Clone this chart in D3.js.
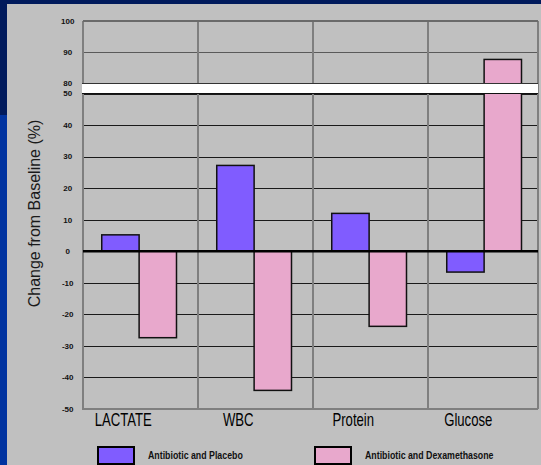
<!DOCTYPE html>
<html>
<head>
<meta charset="utf-8">
<script src="https://cdn.jsdelivr.net/npm/d3@7"></script>
<style>
  body { margin: 0; background: #001a5c; }
  svg { display: block; font-family: Arial, "Liberation Sans", sans-serif; }
</style>
</head>
<body>
<div id="container"></div>
<script>
const categories = ["LACTATE", "WBC", "Protein", "Glucose"];
const seriesNames = ["Antibiotic and Placebo", "Antibiotic and Dexamethasone"];
const placebo = [5.2, 27.2, 12.0, -6.6];
const dexamethasone = [-27.4, -44.1, -23.8, 87.7];
const lowerTicks = [-50, -40, -30, -20, -10, 0, 10, 20, 30, 40, 50];
const upperTicks = [80, 90, 100];

const colors = ["#805cff", "#e8a8cc"];

const width = 541, height = 465;
const plot = { left: 83, right: 538, top: 21, bottom: 409 };

const svg = d3.select("#container")
  .append("svg")
  .attr("width", width)
  .attr("height", height);

// slide background
svg.append("rect").attr("width", width).attr("height", height).attr("fill", "#001a5c");
svg.append("rect").attr("x", 0).attr("y", 115).attr("width", 8).attr("height", height - 115).attr("fill", "#0033a0");
svg.append("rect").attr("x", 7).attr("y", 4).attr("width", width - 7).attr("height", height - 4).attr("fill", "#c0c0c0");

// broken y axis: lower part -50..50, upper part 80..100
const yLow = d3.scaleLinear().domain([-50, 50]).range([plot.bottom, 93.5]);
const yHigh = d3.scaleLinear().domain([80, 100]).range([83.5, plot.top]);
const y = v => v <= 50 ? yLow(v) : yHigh(v);

const x = d3.scaleBand()
  .domain(categories)
  .range([plot.left, plot.left + 460])
  .paddingInner(0)
  .paddingOuter(0);
const bw = x.bandwidth();

// horizontal gridlines
const grid = svg.append("g").attr("shape-rendering", "crispEdges");
grid.selectAll("line.h")
  .data(lowerTicks.concat(upperTicks))
  .enter()
  .append("line")
  .attr("x1", plot.left)
  .attr("x2", plot.right)
  .attr("y1", d => Math.round(y(d)) + 0.5)
  .attr("y2", d => Math.round(y(d)) + 0.5)
  .attr("stroke", d => d > 50 ? "#5a5a5a" : "#1a1a1a")
  .attr("stroke-width", 1);

// vertical separators
const seps = categories.map(c => x(c)).concat([plot.right]);
grid.selectAll("line.v")
  .data(seps)
  .enter()
  .append("line")
  .attr("x1", d => d)
  .attr("x2", d => d)
  .attr("y1", plot.top)
  .attr("y2", plot.bottom)
  .attr("stroke", "#7f7f7f")
  .attr("stroke-width", 2);

// top border and bottom axis
grid.append("line").attr("x1", plot.left).attr("x2", plot.right)
  .attr("y1", y(100)).attr("y2", y(100)).attr("stroke", "#6a6a6a").attr("stroke-width", 1.5);
grid.append("line").attr("x1", plot.left - 1).attr("x2", plot.right)
  .attr("y1", y(-50)).attr("y2", y(-50)).attr("stroke", "#7f7f7f").attr("stroke-width", 2);

// bars
const series = [placebo, dexamethasone];
series.forEach((vals, i) => {
  svg.append("g")
    .selectAll("rect")
    .data(vals.map((v, j) => ({ c: categories[j], v })))
    .enter()
    .append("rect")
    .attr("x", d => x(d.c) + bw * 0.163 + i * bw * 0.325)
    .attr("width", bw * 0.325)
    .attr("y", d => Math.min(y(d.v), y(0)))
    .attr("height", d => Math.abs(y(d.v) - y(0)))
    .attr("fill", colors[i])
    .attr("stroke", "#111")
    .attr("stroke-width", 1.5);
});

// zero line
svg.append("line")
  .attr("x1", plot.left).attr("x2", plot.right)
  .attr("y1", y(0)).attr("y2", y(0))
  .attr("stroke", "#000").attr("stroke-width", 2.5);

// axis break band
svg.append("rect")
  .attr("x", plot.left - 1)
  .attr("y", y(80))
  .attr("width", plot.right - plot.left + 1)
  .attr("height", y(50) - y(80))
  .attr("fill", "#fff");
svg.append("line").attr("x1", plot.left - 1).attr("x2", plot.right)
  .attr("y1", y(80)).attr("y2", y(80)).attr("stroke", "#333").attr("stroke-width", 1.2);
svg.append("line").attr("x1", plot.left - 1).attr("x2", plot.right)
  .attr("y1", y(50)).attr("y2", y(50)).attr("stroke", "#111").attr("stroke-width", 1.2);

// y tick labels
svg.append("g")
  .selectAll("text")
  .data(lowerTicks.concat(upperTicks))
  .enter()
  .append("text")
  .attr("x", 67.7)
  .attr("y", d => y(d))
  .attr("dy", "0.35em")
  .attr("text-anchor", "middle")
  .attr("font-size", 8)
  .attr("font-weight", "bold")
  .attr("fill", "#111")
  .text(d => d);

// y axis title
svg.append("text")
  .attr("transform", "translate(40,213.5) rotate(-90)")
  .attr("text-anchor", "middle")
  .attr("font-size", 16)
  .attr("fill", "#1a1a1a")
  .text("Change from Baseline (%)");

// category labels (condensed)
svg.append("g")
  .selectAll("text")
  .data(categories)
  .enter()
  .append("text")
  .attr("transform", d => `translate(${x(d) + bw * 0.35},426) scale(0.73,1)`)
  .attr("text-anchor", "middle")
  .attr("font-size", 18)
  .attr("fill", "#000")
  .text(d => d);

// legend
const legendX = [98, 315];
seriesNames.forEach((name, i) => {
  svg.append("rect")
    .attr("x", legendX[i]).attr("y", 447)
    .attr("width", 36).attr("height", 17)
    .attr("fill", colors[i])
    .attr("stroke", "#000").attr("stroke-width", 2);
  svg.append("text")
    .attr("transform", `translate(${legendX[i] + 50},459) scale(0.8,1)`)
    .attr("font-size", 11)
    .attr("font-weight", "bold")
    .attr("fill", "#111")
    .text(name);
});
</script>
</body>
</html>
